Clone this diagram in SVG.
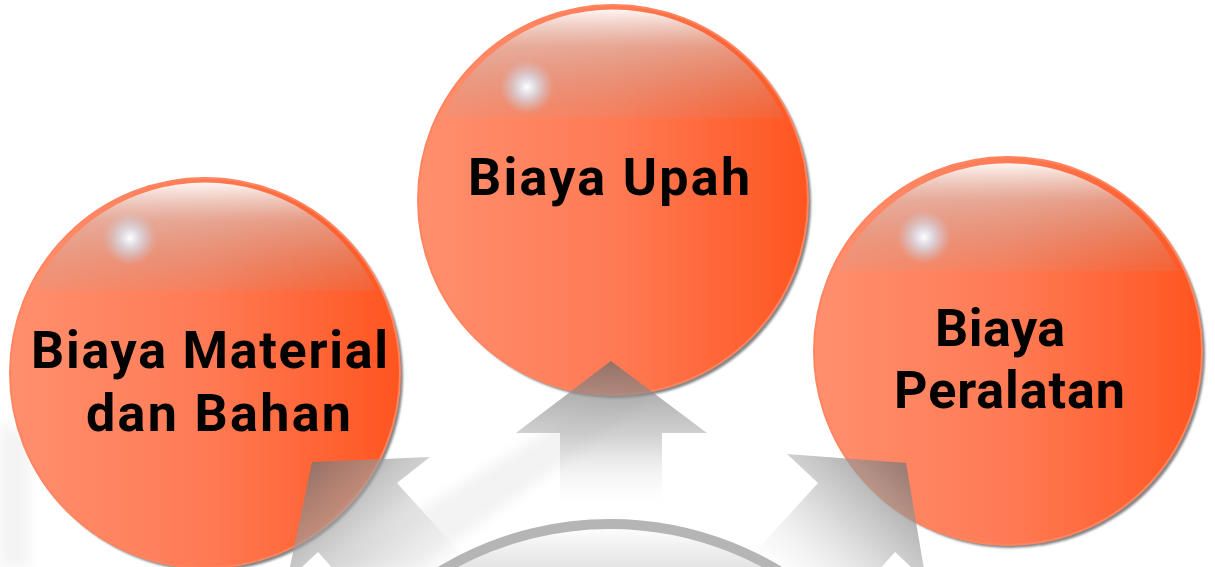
<svg xmlns="http://www.w3.org/2000/svg" width="1215" height="567" viewBox="0 0 1215 567">
<style>
.lbl{font-family:Roboto,"Liberation Sans",sans-serif;font-weight:bold;font-size:52px;fill:#000}
.shadow{fill:#858585}
.ball{fill:url(#ballGrad);stroke:#ff8560;stroke-width:2}
.gloss{fill:url(#glossGrad)}
.spot{fill:url(#spotGrad)}
</style>
<defs>
<linearGradient id="ballGrad" x1="0" y1="0" x2="1" y2="0">
<stop offset="0" stop-color="#ff8f6e"/>
<stop offset="0.5" stop-color="#ff7b55"/>
<stop offset="1" stop-color="#ff5520"/>
</linearGradient>
<linearGradient id="glossGrad" x1="0" y1="0" x2="0" y2="1">
<stop offset="0" stop-color="#ffffff" stop-opacity="0.92"/>
<stop offset="0.35" stop-color="#d0d0d0" stop-opacity="0.5"/>
<stop offset="1" stop-color="#a8a8a8" stop-opacity="0.1"/>
</linearGradient>
<radialGradient id="spotGrad" cx="0.5" cy="0.5" r="0.5">
<stop offset="0" stop-color="#ffffff" stop-opacity="1"/>
<stop offset="0.35" stop-color="#dcdce6" stop-opacity="0.9"/>
<stop offset="1" stop-color="#c8c8d8" stop-opacity="0"/>
</radialGradient>
<linearGradient id="upGrad" gradientUnits="userSpaceOnUse" x1="0" y1="361" x2="0" y2="512">
<stop offset="0" stop-color="#6e6e6e" stop-opacity="0.75"/>
<stop offset="0.5" stop-color="#b4b4b4" stop-opacity="0.6"/>
<stop offset="1" stop-color="#ffffff" stop-opacity="0"/>
</linearGradient>
<linearGradient id="leftGrad" gradientUnits="userSpaceOnUse" x1="305" y1="450" x2="440" y2="590">
<stop offset="0" stop-color="#6a6a6a" stop-opacity="0.78"/>
<stop offset="0.5" stop-color="#b8b8b8" stop-opacity="0.6"/>
<stop offset="1" stop-color="#ffffff" stop-opacity="0.2"/>
</linearGradient>
<linearGradient id="rightGrad" gradientUnits="userSpaceOnUse" x1="915" y1="450" x2="780" y2="590">
<stop offset="0" stop-color="#6a6a6a" stop-opacity="0.78"/>
<stop offset="0.5" stop-color="#b8b8b8" stop-opacity="0.6"/>
<stop offset="1" stop-color="#ffffff" stop-opacity="0.2"/>
</linearGradient>
<linearGradient id="hubGrad" gradientUnits="userSpaceOnUse" x1="0" y1="525" x2="0" y2="570">
<stop offset="0" stop-color="#ffffff"/>
<stop offset="1" stop-color="#e2e2e2"/>
</linearGradient>
<filter id="soft" x="-10%" y="-10%" width="120%" height="120%"><feGaussianBlur stdDeviation="1.2"/></filter>
<filter id="blurBig" x="-20%" y="-20%" width="140%" height="140%"><feGaussianBlur stdDeviation="6"/></filter>
</defs>

<g id="reflections" opacity="0.5">
<polygon points="330,567 620,385 650,400 420,567" fill="#e6e6e6" filter="url(#blurBig)"/>
<polygon points="0,420 30,440 30,567 0,567" fill="#e8e8e8" filter="url(#blurBig)"/>
</g>

<g id="node-material">
<circle class="shadow" cx="208" cy="376" r="195" filter="url(#soft)"/>
<circle class="ball" cx="205" cy="373" r="195"/>
<path class="gloss" d="M 34,291 A 189 189 0 0 1 376,291 Z"/>
<circle class="spot" cx="130" cy="238" r="27"/>
<text class="lbl" x="31" y="368" textLength="357" lengthAdjust="spacing">Biaya Material</text>
<text class="lbl" x="86" y="431" textLength="265" lengthAdjust="spacing">dan Bahan</text>
</g>

<g id="node-upah">
<circle class="shadow" cx="616" cy="203" r="195" filter="url(#soft)"/>
<circle class="ball" cx="613" cy="200" r="195"/>
<path class="gloss" d="M 442,118 A 189 189 0 0 1 784,118 Z"/>
<circle class="spot" cx="527" cy="87" r="27"/>
<text class="lbl" x="468" y="195" textLength="282" lengthAdjust="spacing">Biaya Upah</text>
</g>

<g id="node-peralatan">
<circle class="shadow" cx="1011" cy="354" r="194" filter="url(#soft)"/>
<circle class="ball" cx="1008" cy="351" r="194"/>
<path class="gloss" d="M 838,271 A 188 188 0 0 1 1178,271 Z"/>
<circle class="spot" cx="924" cy="237" r="27"/>
<text class="lbl" x="935" y="346" textLength="130" lengthAdjust="spacing">Biaya</text>
<text class="lbl" x="894" y="408" textLength="231" lengthAdjust="spacing">Peralatan</text>
</g>

<g id="connectors">
<polygon points="611,361 707,433 662,433 662,512 560,512 560,433 516,433" fill="url(#upGrad)"/>
<polygon points="312,462 430,457 397,483 503,600 361,600 318,552 287,581" fill="url(#leftGrad)"/>
<polygon points="906,463 787,454 818,483 712,600 852,600 895,552 926,581" fill="url(#rightGrad)"/>
</g>

<g id="node-hub">
<circle cx="610" cy="851" r="327" fill="url(#hubGrad)" stroke="#b5b5b5" stroke-width="10"/>
</g>
</svg>
